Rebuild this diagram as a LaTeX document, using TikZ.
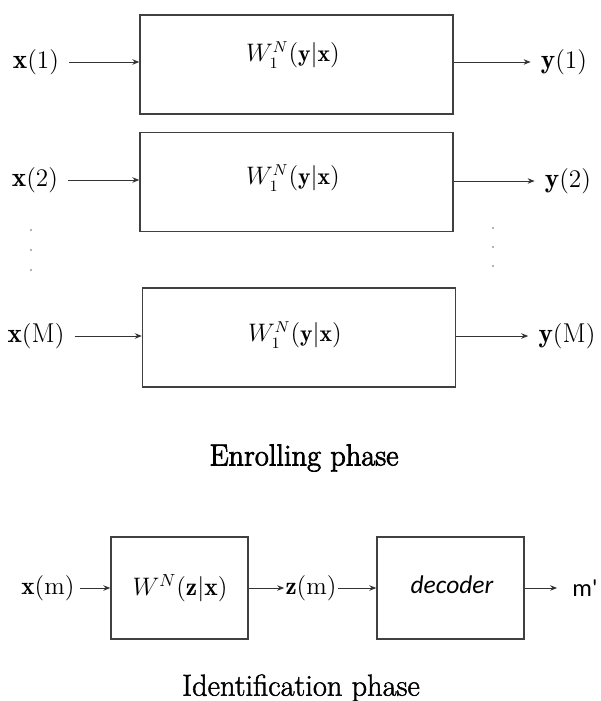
\documentclass[tikz,border=0pt]{standalone}
\usepackage{amsmath}
\usepackage{fontspec}
\newfontfamily\calib{Carlito}
\newfontfamily\phasefont[FakeBold=2.5]{lmroman17-regular.otf}
\newfontfamily\idfont[FakeBold=1.5]{lmroman17-regular.otf}
\usetikzlibrary{arrows.meta,positioning}

\begin{document}
\begin{tikzpicture}[x=0.02cm,y=-0.02cm,
every node/.style={inner sep=0pt},
blk/.style={draw=black!75,line width=0.8pt,minimum width=6.26cm,minimum height=1.98cm},
sblk/.style={draw=black!75,line width=0.8pt,minimum height=2.04cm},
io/.style={font=\fontsize{15.5}{18}\selectfont,inner sep=0.2cm},
ch/.style={font=\fontsize{13.5}{16}\selectfont},
flow/.style={draw=black!80,line width=0.55pt,-{Stealth[length=1.4mm,width=1.1mm]}},
phase/.style={font=\phasefont\fontsize{17.3}{20}\selectfont}]
\useasboundingbox (0,0) rectangle (601,701);

% enrolling phase
\node[blk] (B1) at (296.5,64.5) {};
\node[blk] (B2) at (296.5,182) {};
\node[blk] (BM) at (299,337.5) {};
\node[ch] (W1) at (293,55) {$W_1^N(\mathbf{y}|\mathbf{x})$};
\node[ch] (W2) at (293,178) {$W_1^N(\mathbf{y}|\mathbf{x})$};
\node[ch] (WM) at (295,335) {$W_1^N(\mathbf{y}|\mathbf{x})$};

\node[io] (x1) at (36,62) {$\mathbf{x}(1)$};
\node[io] (x2) at (35,180) {$\mathbf{x}(2)$};
\node[io] (xM) at (36,336) {$\mathbf{x}(\mathrm{M})$};
\node[io] (y1) at (564,62) {$\mathbf{y}(1)$};
\node[io] (y2) at (568,181) {$\mathbf{y}(2)$};
\node[io] (yM) at (567,336) {$\mathbf{y}(\mathrm{M})$};

\draw[flow] (x1) -- (x1 -| B1.west);
\draw[flow] (x2) -- (x2 -| B2.west);
\draw[flow] (xM) -- (xM -| BM.west);
\draw[flow] (B1.east |- y1) -- (y1);
\draw[flow] (B2.east |- y2) -- (y2);
\draw[flow] (BM.east |- yM) -- (yM);

\foreach \d in {230,250,270} \fill[black!60] (31,\d) circle (0.45pt);
\foreach \d in {228,247,266} \fill[black!60] (493,\d) circle (0.45pt);

\node[phase] (enroll) at (304,458) {Enrolling phase};

% identification phase
\node[sblk,minimum width=2.74cm] (chan) at (179.5,588) {};
\node[sblk,minimum width=2.94cm] (dec) at (450.5,588) {};
\node[font=\fontsize{14.5}{17}\selectfont] (Wz) at (180,588) {$W^N(\mathbf{z}|\mathbf{x})$};
\node[font=\calib\itshape\fontsize{14.5}{17}\selectfont] (dtxt) at (452,585) {decoder};

\node[ch,font=\fontsize{14.3}{17}\selectfont,inner sep=0.1cm] (xm) at (48,588) {$\mathbf{x}(\mathrm{m})$};
\node[ch,font=\fontsize{14.3}{17}\selectfont,inner sep=0.02cm] (zm) at (311,588) {$\mathbf{z}(\mathrm{m})$};
\node[font=\calib\fontsize{14}{17}\selectfont,inner sep=0.3cm] (mh) at (585,588) {m'};

\draw[flow] (xm) -- (xm -| chan.west);
\draw[flow] (chan.east |- zm) -- (zm);
\draw[flow] (zm) -- (zm -| dec.west);
\draw[flow] (dec.east |- mh) -- (mh);

\node[phase,font=\idfont\fontsize{17.3}{20}\selectfont] (ident) at (301,688) {Identification phase};
\end{tikzpicture}
\end{document}
